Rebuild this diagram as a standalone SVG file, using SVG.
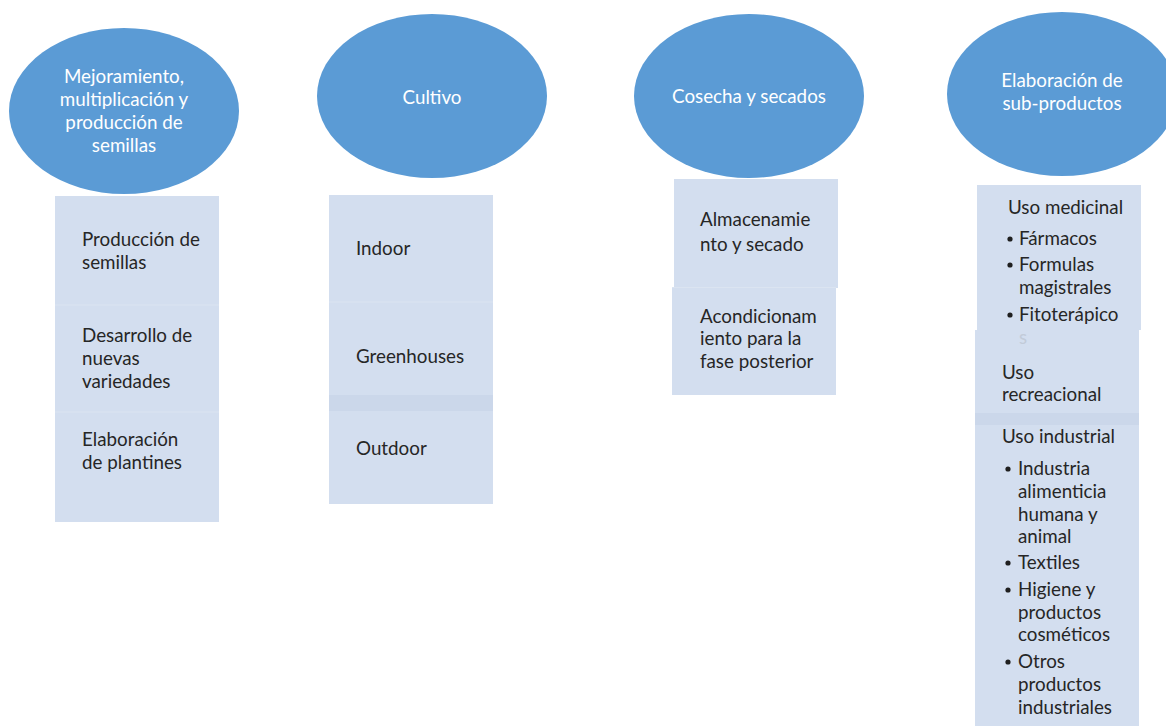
<svg xmlns="http://www.w3.org/2000/svg" width="1166" height="726" viewBox="0 0 1166 726">
<style>
.ell{fill:#5b9bd5;}
.box{fill:#d3deef;}
.band{fill:#cbd7ea;}
.sep{stroke:#dbe4f1;stroke-width:1.2;}
text{font-family:Lato,"Open Sans","Liberation Sans",sans-serif;font-size:18.8px;}
.t{fill:#262626;}
.w{fill:#ffffff;text-anchor:middle;}
.ghost{fill:#c2cbd9;}
.dot{fill:#1f1f1f;}
</style>
<rect width="1166" height="726" fill="#ffffff"/>
<g id="connectors"></g>

<g id="n1">
<ellipse class="ell" cx="124" cy="111" rx="115" ry="83"/>
<text class="w" x="124" y="83">Mejoramiento,</text>
<text class="w" x="124" y="106">multiplicación y</text>
<text class="w" x="124" y="129">producción de</text>
<text class="w" x="124" y="152">semillas</text>
</g>
<g id="n1-items">
<rect class="box" x="55" y="196" width="164" height="326"/>
<line class="sep" x1="55" y1="305" x2="219" y2="305"/>
<line class="sep" x1="55" y1="412" x2="219" y2="412"/>
<text class="t" x="82" y="246">Producción de</text>
<text class="t" x="82" y="269">semillas</text>
<text class="t" x="82" y="342">Desarrollo de</text>
<text class="t" x="82" y="365">nuevas</text>
<text class="t" x="82" y="388">variedades</text>
<text class="t" x="82" y="446">Elaboración</text>
<text class="t" x="82" y="469">de plantines</text>
</g>

<g id="n2">
<ellipse class="ell" cx="432" cy="96" rx="115" ry="82"/>
<text class="w" x="432" y="104">Cultivo</text>
</g>
<g id="n2-items">
<rect class="box" x="329" y="195" width="164" height="309"/>
<line class="sep" x1="329" y1="302" x2="493" y2="302"/>
<rect class="band" x="329" y="395" width="164" height="16"/>
<text class="t" x="356" y="255">Indoor</text>
<text class="t" x="356" y="363">Greenhouses</text>
<text class="t" x="356" y="455">Outdoor</text>
</g>

<g id="n3">
<ellipse class="ell" cx="749" cy="96" rx="115" ry="82"/>
<text class="w" x="749" y="103">Cosecha y secados</text>
</g>
<g id="n3-items">
<rect class="box" x="674" y="179" width="164" height="109"/>
<rect class="box" x="672" y="287" width="164" height="108"/>
<line class="sep" x1="672" y1="287.5" x2="836" y2="287.5"/>
<text class="t" x="700" y="226">Almacenamie</text>
<text class="t" x="700" y="251">nto y secado</text>
<text class="t" x="700" y="323">Acondicionam</text>
<text class="t" x="700" y="345">iento para la</text>
<text class="t" x="700" y="368">fase posterior</text>
</g>

<g id="n4">
<ellipse class="ell" cx="1062" cy="94" rx="115" ry="82"/>
<text class="w" x="1062" y="87">Elaboración de</text>
<text class="w" x="1062" y="110">sub-productos</text>
</g>
<g id="n4-items">
<rect class="box" x="977" y="185" width="164" height="145"/>
<rect class="box" x="975" y="330" width="164" height="83"/>
<rect class="box" x="975" y="413" width="164" height="313"/>
<rect class="band" x="975" y="413" width="164" height="12"/>
<text class="t" x="1008" y="214">Uso medicinal</text>
<circle class="dot" cx="1010" cy="239" r="2.6"/>
<text class="t" x="1019" y="245">Fármacos</text>
<circle class="dot" cx="1010" cy="265" r="2.6"/>
<text class="t" x="1019" y="271">Formulas</text>
<text class="t" x="1019" y="294">magistrales</text>
<circle class="dot" cx="1010" cy="315" r="2.6"/>
<text class="t" x="1019" y="321">Fitoterápico</text>
<text class="ghost" x="1019" y="344">s</text>
<text class="t" x="1002" y="379">Uso</text>
<text class="t" x="1002" y="401">recreacional</text>
<text class="t" x="1002" y="443">Uso industrial</text>
<circle class="dot" cx="1008" cy="469" r="2.6"/>
<text class="t" x="1018" y="475">Industria</text>
<text class="t" x="1018" y="498">alimenticia</text>
<text class="t" x="1018" y="521">humana y</text>
<text class="t" x="1018" y="543">animal</text>
<circle class="dot" cx="1008" cy="563" r="2.6"/>
<text class="t" x="1018" y="569">Textiles</text>
<circle class="dot" cx="1008" cy="590" r="2.6"/>
<text class="t" x="1018" y="596">Higiene y</text>
<text class="t" x="1018" y="619">productos</text>
<text class="t" x="1018" y="641">cosméticos</text>
<circle class="dot" cx="1008" cy="662" r="2.6"/>
<text class="t" x="1018" y="668">Otros</text>
<text class="t" x="1018" y="691">productos</text>
<text class="t" x="1018" y="714">industriales</text>
</g>
</svg>
